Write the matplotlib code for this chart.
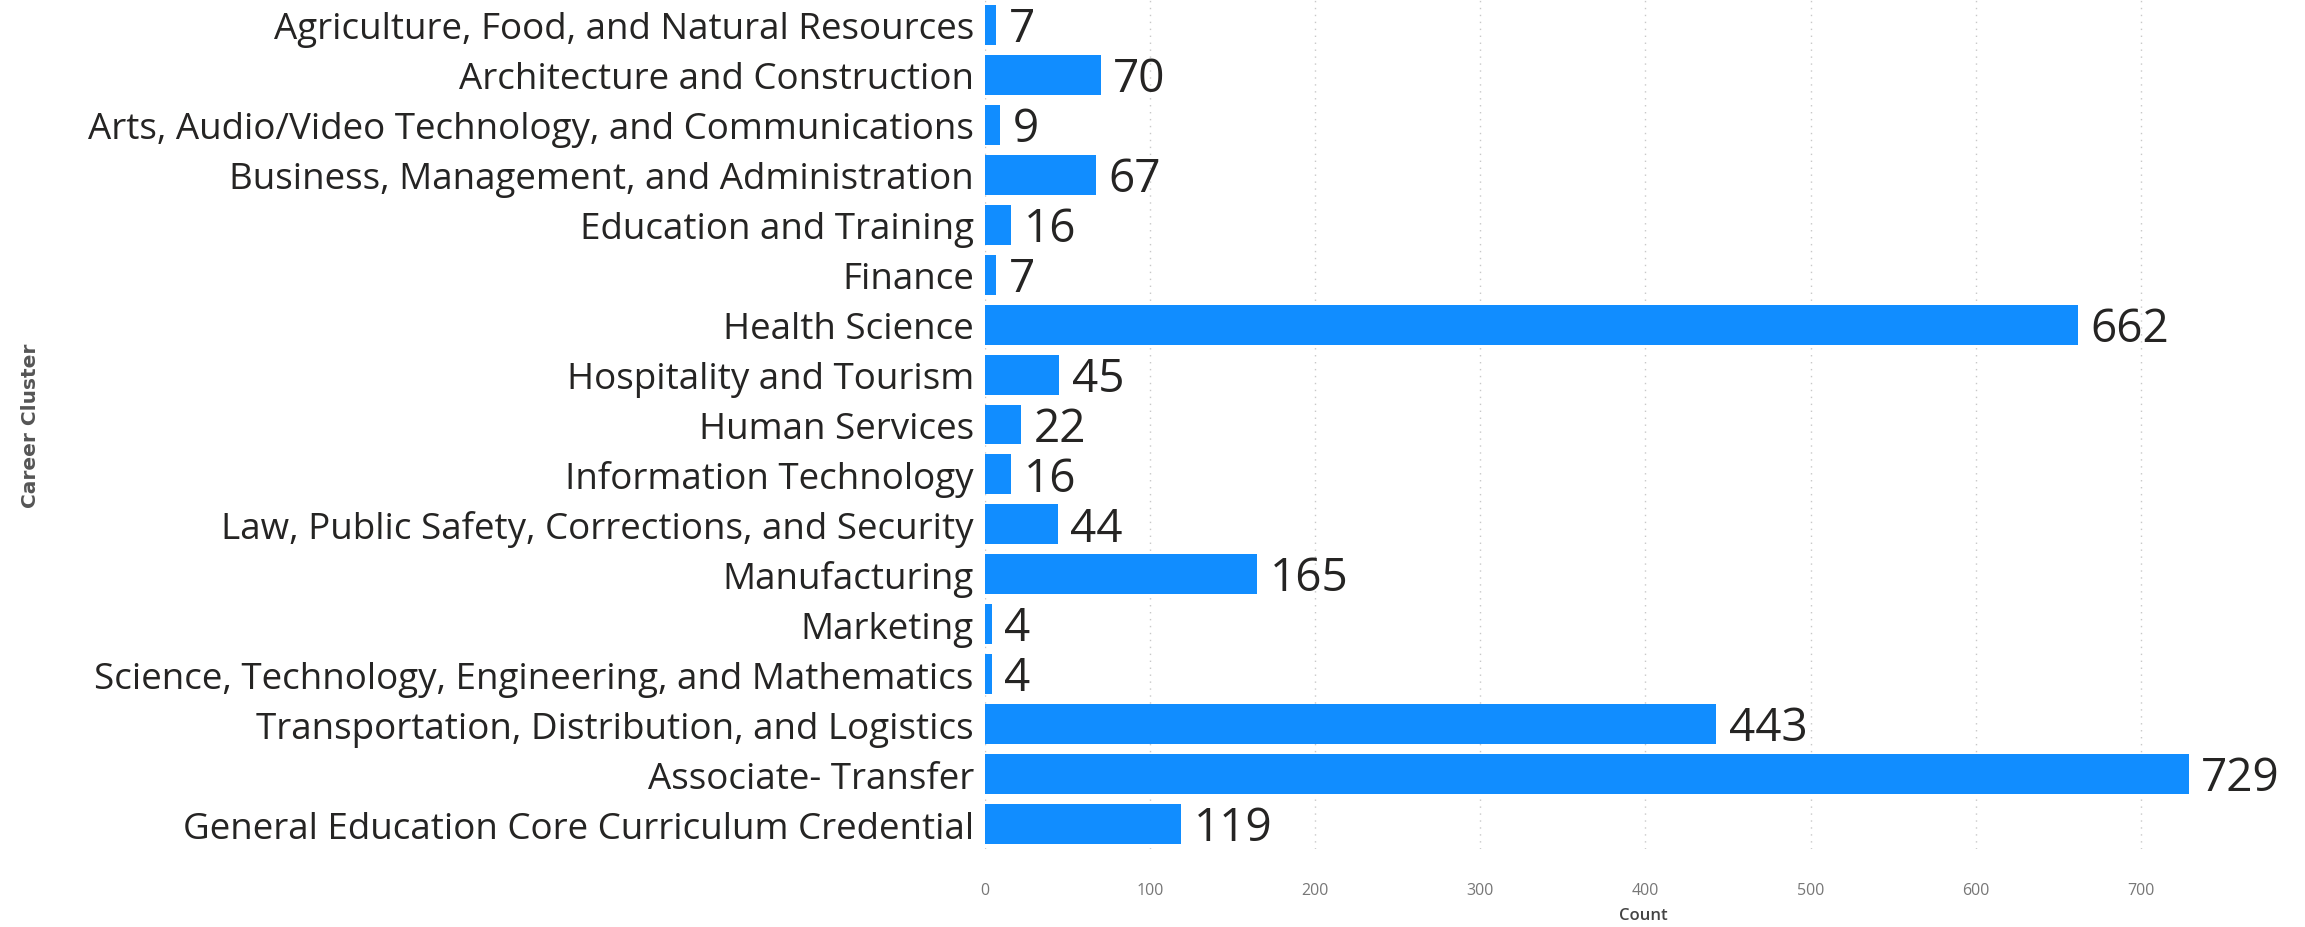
import matplotlib
matplotlib.use('Agg')
import numpy as np
from matplotlib import pyplot as plt

plt.rcParams['font.family'] = ['Open Sans', 'DejaVu Sans']

clusters = [
    'Agriculture, Food, and Natural Resources',
    'Architecture and Construction',
    'Arts, Audio/Video Technology, and Communications',
    'Business, Management, and Administration',
    'Education and Training',
    'Finance',
    'Health Science',
    'Hospitality and Tourism',
    'Human Services',
    'Information Technology',
    'Law, Public Safety, Corrections, and Security',
    'Manufacturing',
    'Marketing',
    'Science, Technology, Engineering, and Mathematics',
    'Transportation, Distribution, and Logistics',
    'Associate- Transfer',
    'General Education Core Curriculum Credential',
]
counts = [7, 70, 9, 67, 16, 7, 662, 45, 22, 16, 44, 165, 4, 4, 443, 729, 119]
x_ticks = [0, 100, 200, 300, 400, 500, 600, 700]

bar_color = '#118DFF'


def draw_chart():
    fig = plt.figure(figsize=(23.05, 9.28), dpi=100)
    ax = fig.add_axes([0.4273, 0.084, 0.571, 0.915])

    ypos = np.arange(len(clusters))
    ax.barh(ypos, counts, height=0.8, color=bar_color, zorder=3)

    for y, c in zip(ypos, counts):
        ax.annotate(str(c), (c, y), xytext=(9, -3), textcoords='offset points',
                    va='center', ha='left', fontsize=33, color='#252423')

    ax.set_yticks(ypos)
    ax.set_yticklabels(clusters, fontsize=26.5, color='#252423')
    ax.set_ylim(len(clusters) - 0.5, -0.5)
    ax.set_xlim(0, 797)
    ax.set_xticks(x_ticks)
    ax.set_xticklabels([str(t) for t in x_ticks], fontsize=11.5, color='#777777')
    ax.tick_params(axis='y', length=0, pad=8)
    ax.tick_params(axis='x', length=0, pad=24)

    ax.grid(axis='x', color='#c8c8c8', linestyle=(0, (1, 4)), linewidth=1,
            zorder=0)
    for s in ax.spines.values():
        s.set_visible(False)

    ax.set_xlabel('Count', fontsize=12, color='#444444', fontweight='semibold',
                  labelpad=6)
    ax.set_ylabel('Career Cluster', fontsize=14.5, color='#555555',
                  fontweight='bold', family='DejaVu Sans')
    ax.yaxis.set_label_coords(-0.718, 0.5)

    fig.savefig('out.png', dpi=100, facecolor='white')


draw_chart()
